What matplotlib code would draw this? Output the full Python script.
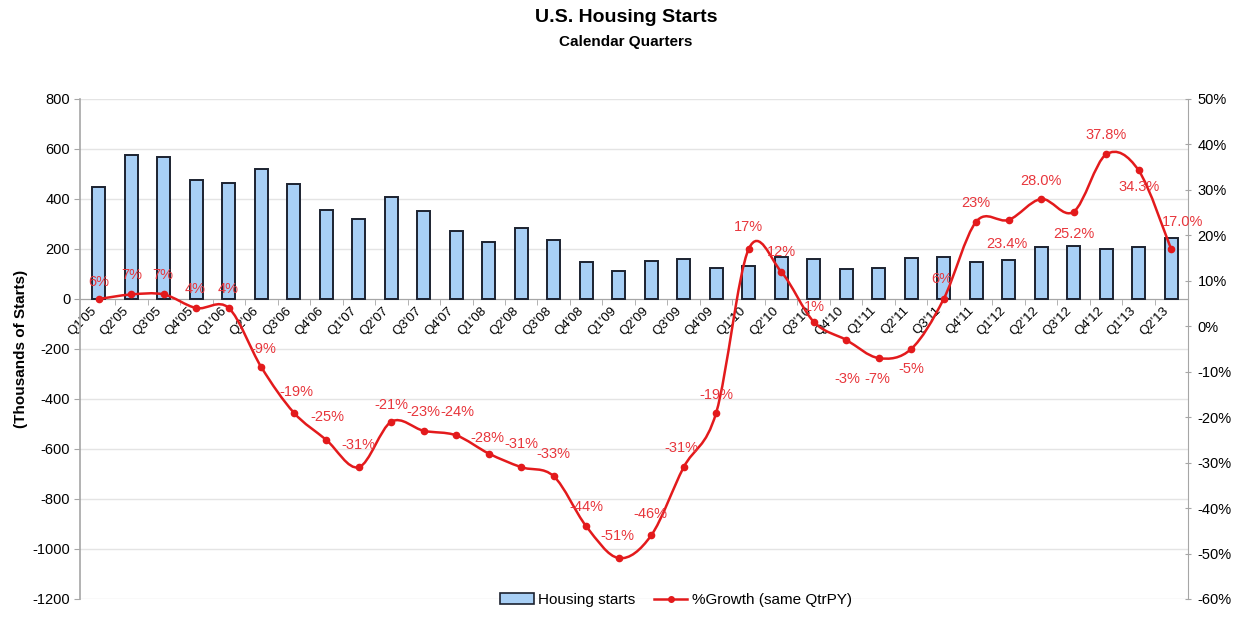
import numpy as np
import matplotlib
matplotlib.use('Agg')
import matplotlib.pyplot as plt
from matplotlib.path import Path
from matplotlib.patches import PathPatch, Patch
from matplotlib.lines import Line2D

plt.rcParams['font.family'] = ['Liberation Sans', 'DejaVu Sans']
plt.rcParams['axes.unicode_minus'] = False
NARROW = ['Liberation Sans Narrow', 'Liberation Sans', 'DejaVu Sans']

quarters = ["Q1'05", "Q2'05", "Q3'05", "Q4'05", "Q1'06", "Q2'06", "Q3'06", "Q4'06",
            "Q1'07", "Q2'07", "Q3'07", "Q4'07", "Q1'08", "Q2'08", "Q3'08", "Q4'08",
            "Q1'09", "Q2'09", "Q3'09", "Q4'09", "Q1'10", "Q2'10", "Q3'10", "Q4'10",
            "Q1'11", "Q2'11", "Q3'11", "Q4'11", "Q1'12", "Q2'12", "Q3'12", "Q4'12",
            "Q1'13", "Q2'13"]

# housing starts, thousands
starts = [448, 576, 567, 476, 465, 521, 459, 357, 321, 409, 352, 272,
          229, 283, 236, 149, 113, 152, 161, 124, 133, 169, 160, 119,
          125, 163, 169, 148, 155, 209, 213, 201, 208, 244]

# growth vs same quarter of prior year, %
growth = [6, 7, 7, 4, 4, -9, -19, -25, -31, -21, -23, -24, -28, -31, -33, -44,
          -51, -46, -31, -19, 17, 12, 1, -3, -7, -5, 6, 23, 23.4, 28.0, 25.2, 37.8,
          34.3, 17.0]

growth_labels = ['6%', '7%', '7%', '4%', '4%', '-9%', '-19%', '-25%', '-31%', '-21%',
                 '-23%', '-24%', '-28%', '-31%', '-33%', '-44%', '-51%', '-46%', '-31%',
                 '-19%', '17%', '12%', '1%', '-3%', '-7%', '-5%', '6%', '23%', '23.4%',
                 '28.0%', '25.2%', '37.8%', '34.3%', '17.0%']

# label offsets in pixels (dx, up)
label_off = [(0, 17), (0, 19), (-1, 19), (-1, 19), (-1, 19), (2, 18), (3, 21), (1, 23),
             (0, 22), (0, 17), (0, 19), (1, 23), (-1, 16), (0, 23), (0, 22), (0, 19),
             (-1, 22), (-1, 21), (-2, 19), (0, 18), (0, 22), (0, 20), (1, 15), (1, -39),
             (-1, -21), (0, -20), (-2, 20), (0, 19), (-2, -24), (0, 18), (0, -22),
             (0, 19), (0, -17), (11, 27)]

bar_color = '#a8cff5'
bar_edge = '#1c2230'
line_color = '#e31a1c'
label_color = '#e8363c'
axis_gray = '#a6a6a6'


def smooth_path(xs, ys):
    # Excel-like smoothed line: cubic bezier through each point
    pts = np.column_stack([xs, ys]).astype(float)
    verts = [pts[0]]
    codes = [Path.MOVETO]
    n = len(pts)
    for i in range(n - 1):
        p0 = pts[i - 1] if i > 0 else pts[i]
        p1 = pts[i]
        p2 = pts[i + 1]
        p3 = pts[i + 2] if i + 2 < n else pts[i + 1]
        c1 = p1 + (p2 - p0) / 6.0
        c2 = p2 - (p3 - p1) / 6.0
        verts += [c1, c2, p2]
        codes += [Path.CURVE4] * 3
    return Path(verts, codes)


fig = plt.figure(figsize=(12.42, 6.18), dpi=100)
ax = fig.add_axes([80 / 1242, 1 - 599 / 618, (1188 - 80) / 1242, 500 / 618])
ax2 = ax.twinx()

x = np.arange(len(quarters))
ax.bar(x, starts, width=0.4, color=bar_color, edgecolor=bar_edge, linewidth=1.4, zorder=3)
ax.set_xlim(-0.58, len(quarters) - 0.48)
ax.set_ylim(-1200, 800)
ax.set_yticks(np.arange(-1200, 801, 200))
ax.yaxis.grid(True, color='#e4e4e4', linewidth=1, zorder=0)
ax.set_axisbelow(True)

for s in ['top', 'right']:
    ax.spines[s].set_visible(False)
ax.spines['left'].set_color(axis_gray)
ax.spines['bottom'].set_color(axis_gray)
ax.spines['bottom'].set_position(('data', 0))
ax.spines['left'].set_linewidth(1.2)

ax.set_xticks(x)
ax.set_xticklabels(quarters, rotation=45, ha='right', va='top', fontsize=9.5,
                   family=NARROW)
ax.set_xticks(x[:-1] + 0.5, minor=True)
ax.tick_params(axis='x', which='major', length=0, pad=4)
ax.tick_params(axis='x', which='minor', length=4, color=axis_gray, direction='out')
ax.tick_params(axis='y', length=4, color=axis_gray, labelsize=10.5, pad=3)
ax.set_ylabel('(Thousands of Starts)', fontsize=11, fontweight='bold', labelpad=3)

ax2.set_ylim(-60, 50)
ax2.set_yticks(np.arange(-60, 51, 10))
ax2.set_yticklabels([f'{v}%' for v in range(-60, 51, 10)])
ax2.tick_params(axis='y', length=4, color=axis_gray, direction='inout', labelsize=10.5, pad=5)
for s in ['top', 'left', 'bottom']:
    ax2.spines[s].set_visible(False)
ax2.spines['right'].set_color(axis_gray)

ax2.add_patch(PathPatch(smooth_path(x, growth), fill=False, edgecolor=line_color,
                        linewidth=1.8, zorder=4))
ax2.plot(x, growth, linestyle='none', marker='o', markersize=4.5, color=line_color, zorder=5)

for xi, g, lab, (dx, dy) in zip(x, growth, growth_labels, label_off):
    ax2.annotate(lab, (xi, g), xytext=(dx, dy), textcoords='offset pixels',
                 ha='center', va='center', color=label_color, fontsize=10.5,
                 family=NARROW, zorder=6)

fig.text(626 / 1242, 1 - 17 / 618, 'U.S. Housing Starts', ha='center', va='center',
         fontsize=14, fontweight='bold', family=NARROW)
fig.text(626 / 1242, 1 - 42 / 618, 'Calendar Quarters', ha='center', va='center',
         fontsize=11, fontweight='bold', family=NARROW)

handles = [Patch(facecolor=bar_color, edgecolor=bar_edge, linewidth=1.2),
           Line2D([], [], color=line_color, marker='o', markersize=4, linewidth=1.8)]
fig.legend(handles, ['Housing starts', '%Growth (same QtrPY)'], loc='center',
           bbox_to_anchor=(676 / 1242, 1 - 600 / 618), ncol=2, frameon=False,
           handlelength=2.2, handletextpad=0.3, columnspacing=1.2,
           prop={'family': NARROW, 'size': 11})

fig.savefig('out.png', dpi=100)
